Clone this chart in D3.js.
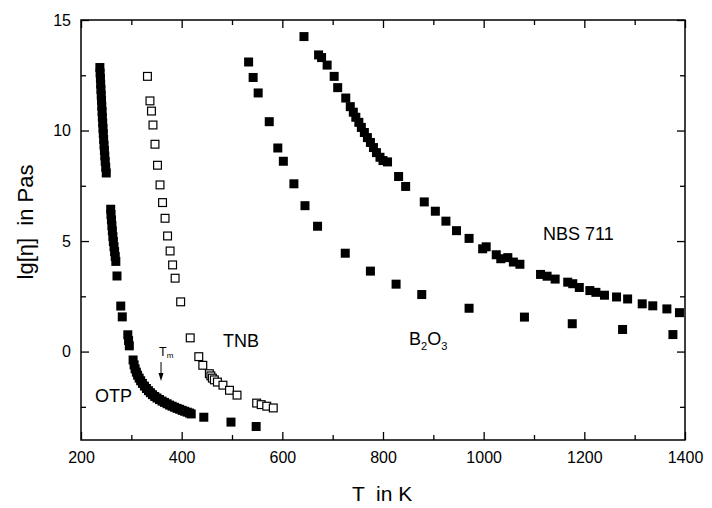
<!DOCTYPE html>
<html>
<head>
<meta charset="utf-8">
<script src="https://cdn.jsdelivr.net/npm/d3@7"></script>
<style>
  html, body { margin: 0; padding: 0; background: #fff; }
  svg { display: block; font-family: "Liberation Sans", Arial, Helvetica, sans-serif; }
</style>
</head>
<body>
<svg id="chart" width="712" height="508"></svg>
<script>
// Viscosity lg(eta) [Pa s] versus temperature T [K]
const otp = [
  [237.5,12.85],[238,12.6],[238.6,12.36],[239.1,12.1],[239.6,11.86],[240.2,11.6],[240.7,11.37],
  [241.3,11.1],[241.9,10.86],[242.4,10.6],[243.1,10.35],[243.7,10.1],[244.3,9.86],[245,9.6],
  [245.8,9.34],[246.5,9.1],[247.3,8.85],[248.1,8.6],[249.1,8.34],[250.2,8.08],
  [259,6.44],[259.6,6.2],[260.5,5.96],[261.4,5.7],[262.3,5.46],[263.4,5.2],[264.3,4.98],
  [265.6,4.74],[266.8,4.52],[268,4.3],[269.2,4.08],[271.5,3.42],
  [279,2.06],[282,1.57],[293,0.76],[294.5,0.5],[296,0.26],
  [303.5,-0.38],[305.5,-0.6],[307.5,-0.78],[310,-0.93],[312.5,-1.07],[315.5,-1.2],[318.5,-1.32],
  [322,-1.44],[326,-1.56],[330,-1.67],[334,-1.77],[338,-1.86],[342,-1.95],[346.5,-2.03],
  [351,-2.1],[356,-2.17],[361,-2.24],[366,-2.3],[371,-2.36],[376,-2.42],[381,-2.47],
  [386,-2.52],[391,-2.57],[396,-2.61],[401,-2.66],[406,-2.7],[411,-2.74],[415.5,-2.78],[419,-2.82],
  [444,-2.97],[498,-3.19],[548,-3.39]
];

const tnb = [
  [332,12.45],[337,11.34],[340,10.88],[343,10.25],[347,9.38],[352,8.43],[357,7.54],[362,6.74],
  [367,6.03],[372,5.23],[377,4.55],[382,3.92],[387,3.32],[398,2.25],[417,0.62],[434,-0.23],
  [442,-0.62],[455,-1.0],[458,-1.1],[461,-1.2],[465,-1.28],[471,-1.38],[482,-1.52],[495,-1.75],
  [510,-1.97],[549,-2.33],[558,-2.4],[569,-2.47],[582,-2.55]
];

const b2o3 = [
  [533,13.1],[542,12.4],[552,11.7],[574,10.4],[591,9.21],[602,8.61],[623,7.59],[645,6.6],
  [670,5.67],[725,4.45],[775,3.64],[826,3.05],[877,2.58],[971,1.96],[1081,1.56],[1176,1.26],
  [1276,1.0],[1376,0.77]
];

const nbs711 = [
  [643,14.25],[672,13.42],[678,13.3],[689,12.96],[703,12.45],[710,11.94],[726,11.47],[735,11.08],
  [741,10.83],[746,10.6],[752,10.37],[757,10.14],[763,9.91],[769,9.68],[775,9.46],[781,9.23],
  [787,9.0],[794,8.79],[800,8.64],[809,8.58],[831,7.92],[845,7.47],[882,6.77],[904,6.35],
  [925,5.9],[946,5.47],[971,5.12],[998,4.65],[1005,4.74],[1025,4.38],[1034,4.2],[1048,4.25],
  [1059,4.05],[1072,3.95],[1113,3.49],[1126,3.41],[1142,3.28],[1167,3.14],[1177,3.07],[1190,2.9],
  [1211,2.76],[1223,2.68],[1240,2.55],[1264,2.47],[1286,2.38],[1315,2.16],[1336,2.07],[1364,1.93],
  [1389,1.76]
];

const xMajorTicks = [200, 400, 600, 800, 1000, 1200, 1400];
const xMinorTicks = [300, 500, 700, 900, 1100, 1300];
const yMajorTicks = [0, 5, 10, 15];
const yMinorTicks = [-2.5, 2.5, 7.5, 12.5];
const meltingT = 359;

const svg = d3.select("#chart");
const x = d3.scaleLinear().domain([200, 1400]).range([81, 685]);
const y = d3.scaleLinear().domain([-4, 15]).range([440, 20]);
const [x0, x1] = x.range();
const [y0, y1] = y.range();

// axes with inward ticks on all four sides
function styleAxis(g) {
  g.select(".domain").remove();
  g.selectAll(".tick line").attr("stroke", "#000").attr("stroke-width", 1.3);
  g.selectAll("text").attr("fill", "#000").attr("font-size", 16);
}
svg.append("g").attr("transform", `translate(0,${y0})`)
  .call(d3.axisBottom(x).tickValues(xMajorTicks).tickSize(-8).tickPadding(12).tickFormat(d3.format("d")))
  .call(styleAxis);
svg.append("g").attr("transform", `translate(0,${y0})`)
  .call(d3.axisBottom(x).tickValues(xMinorTicks).tickSize(-5).tickFormat(""))
  .call(styleAxis);
svg.append("g").attr("transform", `translate(0,${y1})`)
  .call(d3.axisTop(x).tickValues(xMajorTicks).tickSize(-8).tickFormat(""))
  .call(styleAxis);
svg.append("g").attr("transform", `translate(0,${y1})`)
  .call(d3.axisTop(x).tickValues(xMinorTicks).tickSize(-5).tickFormat(""))
  .call(styleAxis);
svg.append("g").attr("transform", `translate(${x0},0)`)
  .call(d3.axisLeft(y).tickValues(yMajorTicks).tickSize(-8).tickPadding(10).tickFormat(d3.format("d")))
  .call(styleAxis);
svg.append("g").attr("transform", `translate(${x0},0)`)
  .call(d3.axisLeft(y).tickValues(yMinorTicks).tickSize(-5).tickFormat(""))
  .call(styleAxis);
svg.append("g").attr("transform", `translate(${x1},0)`)
  .call(d3.axisRight(y).tickValues(yMajorTicks).tickSize(-8).tickFormat(""))
  .call(styleAxis);
svg.append("g").attr("transform", `translate(${x1},0)`)
  .call(d3.axisRight(y).tickValues(yMinorTicks).tickSize(-5).tickFormat(""))
  .call(styleAxis);

svg.append("rect")
  .attr("x", x0).attr("y", y1).attr("width", x1 - x0).attr("height", y0 - y1)
  .attr("fill", "none").attr("stroke", "#000").attr("stroke-width", 1.5);

// square markers
const S = 9;
function squares(data, open) {
  svg.append("g").selectAll("rect").data(data).join("rect")
    .attr("x", d => x(d[0]) - (open ? (S - 1.2) / 2 : S / 2))
    .attr("y", d => y(d[1]) - (open ? (S - 1.2) / 2 : S / 2))
    .attr("width", open ? S - 1.2 : S)
    .attr("height", open ? S - 1.2 : S)
    .attr("fill", open ? "#fff" : "#000")
    .attr("stroke", open ? "#000" : "none")
    .attr("stroke-width", open ? 1.2 : 0);
}
squares(otp, false);
squares(b2o3, false);
squares(nbs711, false);
squares(tnb, true);

// series labels
const lab = svg.append("g").attr("fill", "#000").attr("font-size", 18);
lab.append("text").attr("x", 95).attr("y", 402).text("OTP");
lab.append("text").attr("x", 223).attr("y", 347).text("TNB");
lab.append("text").attr("x", 543).attr("y", 240).text("NBS 711");
const b = lab.append("text").attr("x", 409).attr("y", 345);
b.append("tspan").text("B");
b.append("tspan").attr("font-size", 11).attr("dy", 5).text("2");
b.append("tspan").attr("dy", -5).text("O");
b.append("tspan").attr("font-size", 11).attr("dy", 5).text("3");

// melting point marker
const tm = svg.append("text").attr("x", x(meltingT) - 2).attr("y", 356).attr("font-size", 12.5);
tm.append("tspan").text("T");
tm.append("tspan").attr("font-size", 8).attr("dy", 2).text("m");
const ax = x(meltingT);
svg.append("line").attr("x1", ax).attr("x2", ax).attr("y1", 362).attr("y2", 376)
  .attr("stroke", "#000").attr("stroke-width", 1);
svg.append("path").attr("d", `M${ax - 2.5},${373} L${ax + 2.5},${373} L${ax},${381} Z`).attr("fill", "#000");

// axis titles
svg.append("text").attr("x", 352).attr("y", 501).attr("font-size", 21).attr("fill", "#000")
  .style("white-space", "pre").text("T  in K");
svg.append("text").attr("transform", "translate(33,222) rotate(-90)")
  .attr("text-anchor", "middle").attr("font-size", 22).attr("fill", "#000")
  .style("white-space", "pre").text("lg[η]  in Pas");
</script>
</body>
</html>
